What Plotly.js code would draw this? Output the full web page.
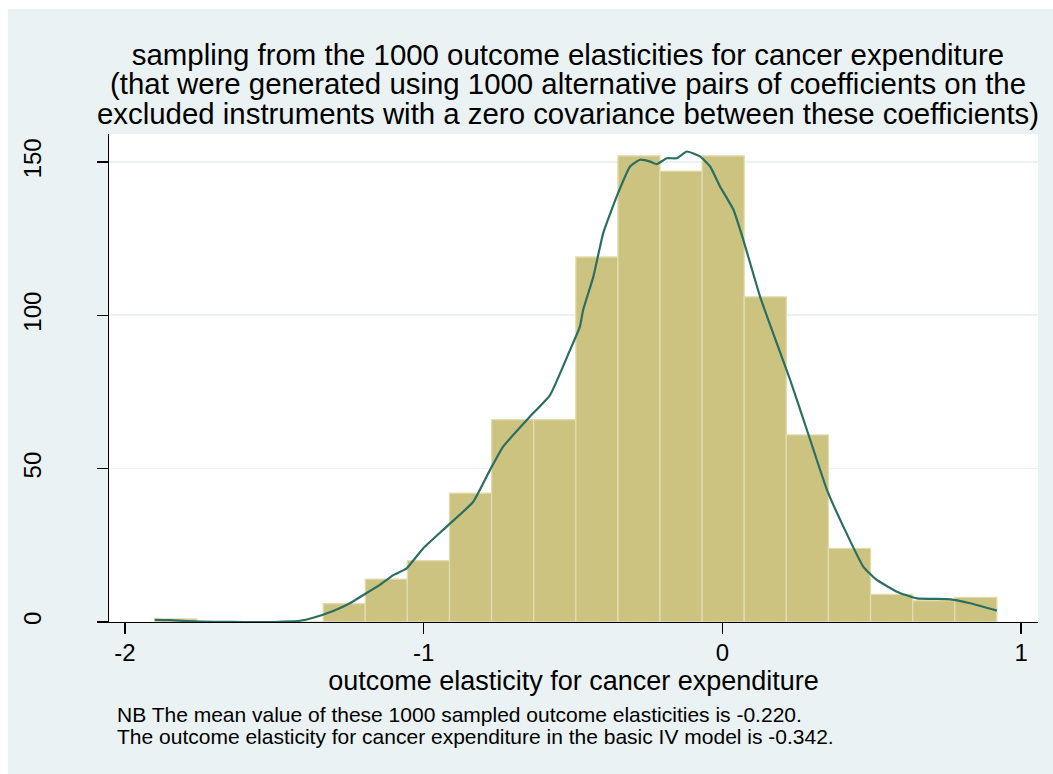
<!DOCTYPE html>
<html>
<head>
<meta charset="utf-8">
<script src="https://cdn.plot.ly/plotly-3.0.1.min.js"></script>
<style>html,body{margin:0;padding:0;background:#fff;}#chart{width:1053px;height:774px;}</style>
</head>
<body>
<div id="chart"></div>
<script>
// Histogram: 20 bins of equal width
const binStart = -1.9005;
const binWidth = 0.14097;
const binCounts = [1, 0, 0, 0, 6, 14, 20, 42, 66, 66, 119, 152, 147, 152, 106, 61, 24, 9, 7, 8];

// Kernel density overlay (scaled to frequency)
const densX = [-1.9005, -1.85, -1.79, -1.70, -1.60, -1.50, -1.47, -1.415, -1.37, -1.303, -1.247, -1.202, -1.147, -1.102, -1.057, -1.002, -0.923, -0.834, -0.778, -0.734, -0.644, -0.577, -0.510, -0.477, -0.466, -0.432, -0.399, -0.354, -0.309, -0.276, -0.242, -0.220, -0.186, -0.153, -0.119, -0.075, -0.041, -0.008, 0.037, 0.070, 0.126, 0.182, 0.227, 0.283, 0.350, 0.405, 0.472, 0.517, 0.584, 0.651, 0.763, 0.830, 0.919];
const densY = [0.7, 0.6, 0.3, 0.05, 0, 0, 0.1, 0.4, 1.4, 3.6, 6.1, 8.8, 12.1, 15.3, 17.5, 24.0, 31.1, 39.2, 49.6, 57.2, 67.0, 74.0, 88.7, 96.3, 101.8, 112.6, 126.8, 138.7, 148.5, 150.7, 150.1, 149.3, 151.2, 151.2, 153.4, 151.8, 148.5, 142.0, 134.4, 124.6, 106.1, 90.9, 78.9, 62.6, 43.1, 31.1, 18.0, 13.7, 9.9, 7.7, 7.4, 6.1, 3.7];

const xTicks = [-2, -1, 0, 1];
const yTicks = [0, 50, 100, 150];

const titleLines = [
  "sampling from the 1000 outcome elasticities for cancer expenditure",
  "(that were generated using 1000 alternative pairs of coefficients on the",
  "excluded instruments with a zero covariance between these coefficients)"
];
const xTitle = "outcome elasticity for cancer expenditure";
const notes = [
  "NB The mean value of these 1000 sampled outcome elasticities is -0.220.",
  "The outcome elasticity for cancer expenditure in the basic IV model is -0.342."
];

const binCenters = binCounts.map((c, i) => binStart + (i + 0.5) * binWidth);

const FONT = "Liberation Sans, Arial, Helvetica, sans-serif";
const BG = "#eaf2f3";
const TSIZE = 29.4;

const traces = [
  {
    type: "bar",
    x: binCenters,
    y: binCounts,
    width: binWidth,
    marker: { color: "#cbc37f", line: { color: "#e2ddb0", width: 1.3 } },
    hoverinfo: "x+y",
    showlegend: false
  },
  {
    type: "scatter",
    mode: "lines",
    x: densX,
    y: densY,
    line: { color: "#2b6e63", width: 2.2, shape: "spline", smoothing: 0.4 },
    showlegend: false
  }
];

const annotations = [
  { text: titleLines[1], x: 0.4941, y: 1.1031 },
  { text: titleLines[2], x: 0.4941, y: 1.0430 }
].map(a => Object.assign({
  xref: "paper", yref: "paper", xanchor: "center", yanchor: "middle",
  showarrow: false, font: { family: FONT, size: TSIZE, color: "#000" }
}, a));

notes.forEach((t, i) => annotations.push({
  text: t, xref: "paper", yref: "paper", x: 0.0061, y: i === 0 ? -0.190 : -0.2344,
  xanchor: "left", yanchor: "middle", showarrow: false,
  font: { family: FONT, size: 21, color: "#000" }
}));

const layout = {
  width: 1053, height: 774,
  margin: { l: 109, r: 15, t: 134, b: 152 },
  paper_bgcolor: BG,
  plot_bgcolor: "#ffffff",
  font: { family: FONT, color: "#000" },
  bargap: 0,
  showlegend: false,
  title: {
    text: titleLines[0],
    xref: "container", yref: "container",
    x: 0.5394, y: 0.9293, xanchor: "center", yanchor: "middle",
    font: { family: FONT, size: TSIZE, color: "#000" }
  },
  xaxis: {
    range: [-2.0536, 1.0566],
    tickvals: xTicks,
    ticktext: xTicks.map(String),
    ticks: "outside", ticklen: 11, tickwidth: 1.2, tickcolor: "#000",
    showline: true, linecolor: "#000", linewidth: 1.2,
    showgrid: false, zeroline: false,
    tickfont: { family: FONT, size: 24, color: "#000" },
    ticklabelstandoff: -2,
    title: { text: xTitle, font: { family: FONT, size: 27, color: "#000" }, standoff: 0 },
    automargin: false
  },
  yaxis: {
    range: [0, 159.1],
    tickvals: yTicks,
    ticktext: yTicks.map(String),
    tickangle: -90,
    ticks: "outside", ticklen: 11, tickwidth: 1.2, tickcolor: "#000",
    showline: true, linecolor: "#000", linewidth: 1.2,
    showgrid: true, gridcolor: BG, gridwidth: 1.6,
    zeroline: false,
    tickfont: { family: FONT, size: 24, color: "#000" },
    ticklabelstandoff: 46,
    automargin: false
  },
  shapes: [
    { type: "rect", xref: "paper", yref: "paper", x0: -0.2, x1: 1.1, y0: 1.2569, y1: 1.4, fillcolor: "#ffffff", line: { width: 0 }, layer: "below" },
    { type: "rect", xref: "paper", yref: "paper", x0: -0.2, x1: -0.1087, y0: -0.4, y1: 1.4, fillcolor: "#ffffff", line: { width: 0 }, layer: "below" }
  ],
  annotations: annotations
};

Plotly.newPlot("chart", traces, layout, { displayModeBar: false, staticPlot: true });
</script>
</body>
</html>
